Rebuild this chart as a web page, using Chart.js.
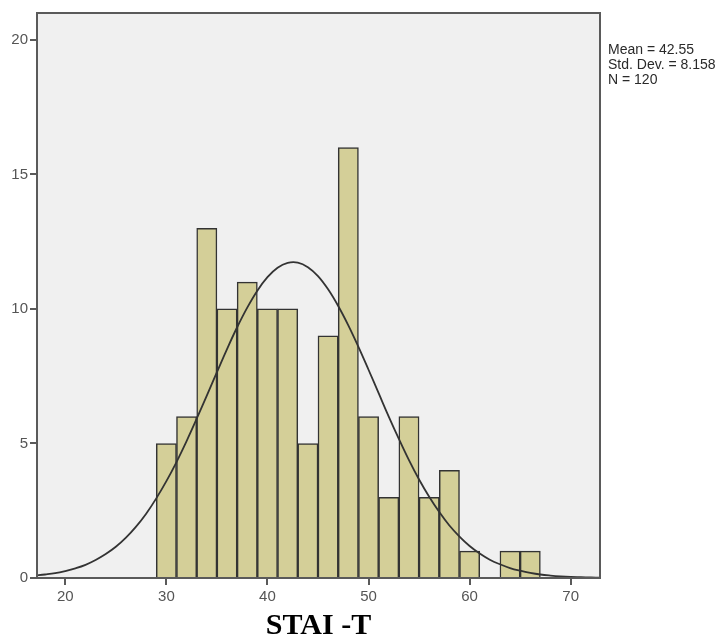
<!DOCTYPE html>
<html>
<head>
<meta charset="utf-8">
<script src="https://cdn.jsdelivr.net/npm/chart.js@4/dist/chart.umd.min.js"></script>
<style>
  html, body { margin: 0; padding: 0; background: #fff; }
  #wrap { width: 725px; height: 637px; position: relative; }
</style>
</head>
<body>
<div id="wrap"><canvas id="hist"></canvas></div>
<script>
// --- Data ---
const binCenters = [30, 32, 34, 36, 38, 40, 42, 44, 46, 48, 50, 52, 54, 56, 58, 60, 62, 64, 66];
const counts     = [5, 6, 13, 10, 11, 10, 10, 5, 9, 16, 6, 3, 6, 3, 4, 1, 0, 1, 1];

// normal curve (mean 42.55, sd 8.158, N 120)
const curveX = [17, 18, 19, 20, 21, 22, 23, 24, 25, 26, 27, 28, 29, 30, 31, 32, 33, 34, 35, 36,
                37, 38, 39, 40, 41, 42, 43, 44, 45, 46, 47, 48, 49, 50, 51, 52, 53, 54, 55, 56,
                57, 58, 59, 60, 61, 62, 63, 64, 65, 66, 67, 68, 69, 70, 71, 72, 73];
const curveY = [0.09, 0.13, 0.18, 0.26, 0.36, 0.49, 0.67, 0.89, 1.16, 1.50, 1.91, 2.39, 2.96, 3.60, 4.31, 5.09, 5.92, 6.78, 7.65, 8.51,
                9.32, 10.05, 10.68, 11.18, 11.53, 11.71, 11.72, 11.55, 11.22, 10.73, 10.11, 9.39, 8.59, 7.74, 6.87, 6.00, 5.17, 4.38, 3.66, 3.02,
                2.45, 1.95, 1.54, 1.19, 0.91, 0.68, 0.51, 0.37, 0.27, 0.19, 0.13, 0.09, 0.06, 0.04, 0.03, 0.02, 0.01];

const xTicks = [20, 30, 40, 50, 60, 70];
const yTicks = [0, 5, 10, 15, 20];
const statsLines = ['Mean = 42.55', 'Std. Dev. = 8.158', 'N = 120'];
const xTitle = 'STAI -T';

// --- Plugins ---
const plotFrame = {
    id: 'plotFrame',
    beforeDraw(chart) {
        const { ctx, chartArea: a } = chart;
        ctx.save();
        ctx.fillStyle = '#f0f0f0';
        ctx.fillRect(a.left, a.top, a.right - a.left, a.bottom - a.top);
        ctx.restore();
    },
    afterDraw(chart) {
        const { ctx, chartArea: a } = chart;
        ctx.save();
        ctx.strokeStyle = '#5a5a5a';
        ctx.lineWidth = 2;
        ctx.strokeRect(a.left, a.top, a.right - a.left, a.bottom - a.top);

        // stats box text
        ctx.fillStyle = '#2a2a2a';
        ctx.font = '14px "Liberation Sans", Arial, sans-serif';
        ctx.textBaseline = 'middle';
        statsLines.forEach((t, i) => ctx.fillText(t, a.right + 8, 50.5 + i * 15));

        // x axis title
        ctx.fillStyle = '#000';
        ctx.font = 'bold 30px "Liberation Serif", "Times New Roman", serif';
        ctx.textAlign = 'center';
        ctx.textBaseline = 'alphabetic';
        ctx.fillText(xTitle, (a.left + a.right) / 2, 634);
        ctx.restore();
    }
};

const tickFont = { family: '"Liberation Sans", Arial, sans-serif', size: 15 };

new Chart(document.getElementById('hist'), {
    type: 'bar',
    data: {
        datasets: [
            {
                type: 'line',
                data: curveX.map((x, i) => ({ x, y: curveY[i] })),
                borderColor: '#333',
                borderWidth: 1.8,
                pointRadius: 0,
                tension: 0.4,
                fill: false,
                order: 0
            },
            {
                type: 'bar',
                data: binCenters.map((x, i) => ({ x, y: counts[i] })),
                backgroundColor: '#d4cf98',
                borderColor: '#333',
                borderWidth: 1.5,
                barPercentage: 1,
                categoryPercentage: 1,
                order: 1
            }
        ]
    },
    options: {
        responsive: true,
        maintainAspectRatio: false,
        animation: false,
        layout: { padding: { left: 0, top: 13, right: 125, bottom: 0 } },
        plugins: { legend: { display: false }, tooltip: { enabled: false } },
        scales: {
            x: {
                type: 'linear',
                offset: false,
                min: 17.2,
                max: 72.9,
                afterBuildTicks: s => { s.ticks = xTicks.map(v => ({ value: v })); },
                afterFit: s => { s.height = 59; },
                grid: { offset: false, drawOnChartArea: false, drawTicks: true, tickLength: 7, color: '#5a5a5a', lineWidth: 2 },
                border: { display: false },
                ticks: { color: '#555', font: tickFont, padding: 3, maxRotation: 0 }
            },
            y: {
                min: 0,
                max: 21,
                afterBuildTicks: s => { s.ticks = yTicks.map(v => ({ value: v })); },
                afterFit: s => { s.width = 37; },
                grid: { drawOnChartArea: false, drawTicks: true, tickLength: 7, color: '#5a5a5a', lineWidth: 2 },
                border: { display: false },
                ticks: { color: '#555', font: tickFont, padding: 2 }
            }
        }
    },
    plugins: [plotFrame]
});
</script>
</body>
</html>
